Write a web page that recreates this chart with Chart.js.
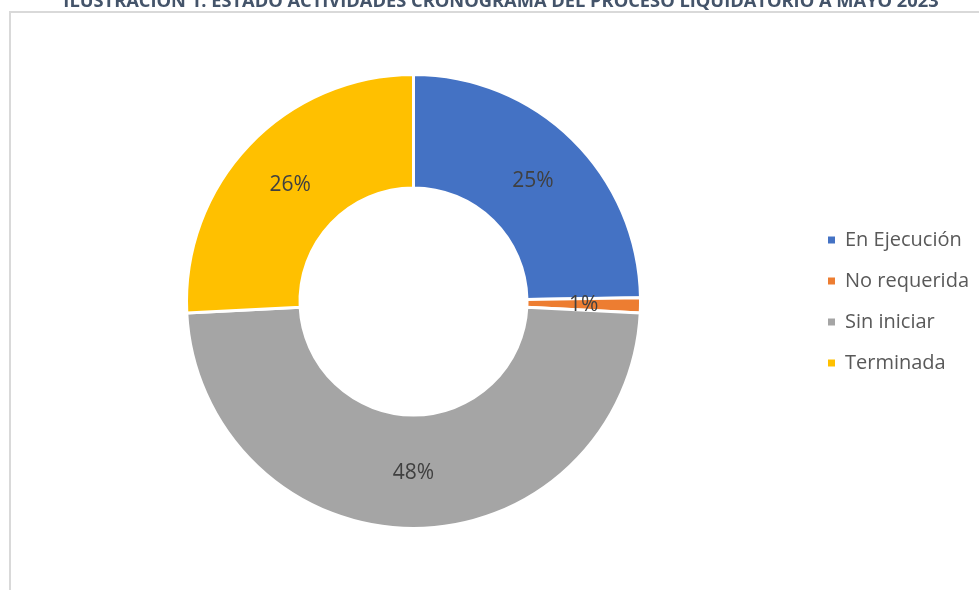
<!DOCTYPE html>
<html>
<head>
<meta charset="utf-8">
<script src="https://cdn.jsdelivr.net/npm/chart.js@4.4.1/dist/chart.umd.min.js"></script>
<style>
  html, body { margin: 0; padding: 0; background: #ffffff; }
  #wrap { position: relative; width: 979px; height: 590px; overflow: hidden; }
  #frame { position: absolute; left: 9px; top: 11px; width: 990px; height: 600px;
           border-left: 2px solid #d9d9d9; border-top: 2px solid #d9d9d9; box-sizing: border-box; }
  canvas { position: absolute; left: 0; top: 0; }
</style>
</head>
<body>
<div id="wrap">
  <div id="frame"></div>
  <canvas id="c" width="979" height="590"></canvas>
</div>
<script>
const titleText = "ILUSTRACIÓN 1. ESTADO ACTIVIDADES CRONOGRAMA DEL PROCESO LIQUIDATORIO A MAYO 2023";
const categories = ["En Ejecución", "No requerida", "Sin iniciar", "Terminada"];
const activityCounts = [23, 1, 45, 24];
const sliceColors = ["#4472C4", "#ED7D31", "#A5A5A5", "#FFC000"];

const titlePlugin = {
  id: 'topTitle',
  afterDraw(chart) {
    const ctx = chart.ctx;
    ctx.save();
    ctx.font = "bold 18.3px 'Open Sans'";
    ctx.fillStyle = "#44546A";
    ctx.textAlign = "center";
    ctx.textBaseline = "alphabetic";
    ctx.fillText(titleText, 501, 7);
    ctx.restore();
  }
};

const pctLabels = {
  id: 'pctLabels',
  afterDatasetsDraw(chart) {
    const ctx = chart.ctx;
    const meta = chart.getDatasetMeta(0);
    const data = chart.data.datasets[0].data;
    const total = data.reduce((a, b) => a + b, 0);
    ctx.save();
    ctx.font = "21px 'Open Sans'";
    ctx.fillStyle = "#404040";
    ctx.textAlign = "center";
    ctx.textBaseline = "middle";
    meta.data.forEach((arc, i) => {
      const p = arc.getCenterPoint();
      const txt = Math.round(data[i] / total * 100) + "%";
      ctx.fillText(txt, p.x, p.y + 1);
    });
    ctx.restore();
  }
};

new Chart(document.getElementById('c'), {
  type: 'doughnut',
  data: {
    labels: categories,
    datasets: [{
      data: activityCounts,
      backgroundColor: sliceColors,
      borderColor: "#ffffff",
      borderWidth: 3,
      hoverOffset: 0
    }]
  },
  options: {
    responsive: false,
    animation: false,
    cutout: '50%',
    rotation: 0,
    layout: { padding: { left: 20, right: 0, top: 73, bottom: 60 } },
    plugins: {
      tooltip: { enabled: false },
      title: { display: false },
      legend: {
        position: 'right',
        labels: {
          boxWidth: 7,
          boxHeight: 7,
          padding: 21,
          color: "#595959",
          font: { size: 20, family: "'Open Sans'" },
          generateLabels(chart) {
            const items = Chart.overrides.doughnut.plugins.legend.labels.generateLabels(chart);
            items.forEach(it => { it.lineWidth = 0; it.strokeStyle = it.fillStyle; });
            return items;
          }
        }
      }
    }
  },
  plugins: [titlePlugin, pctLabels]
});
</script>
</body>
</html>
